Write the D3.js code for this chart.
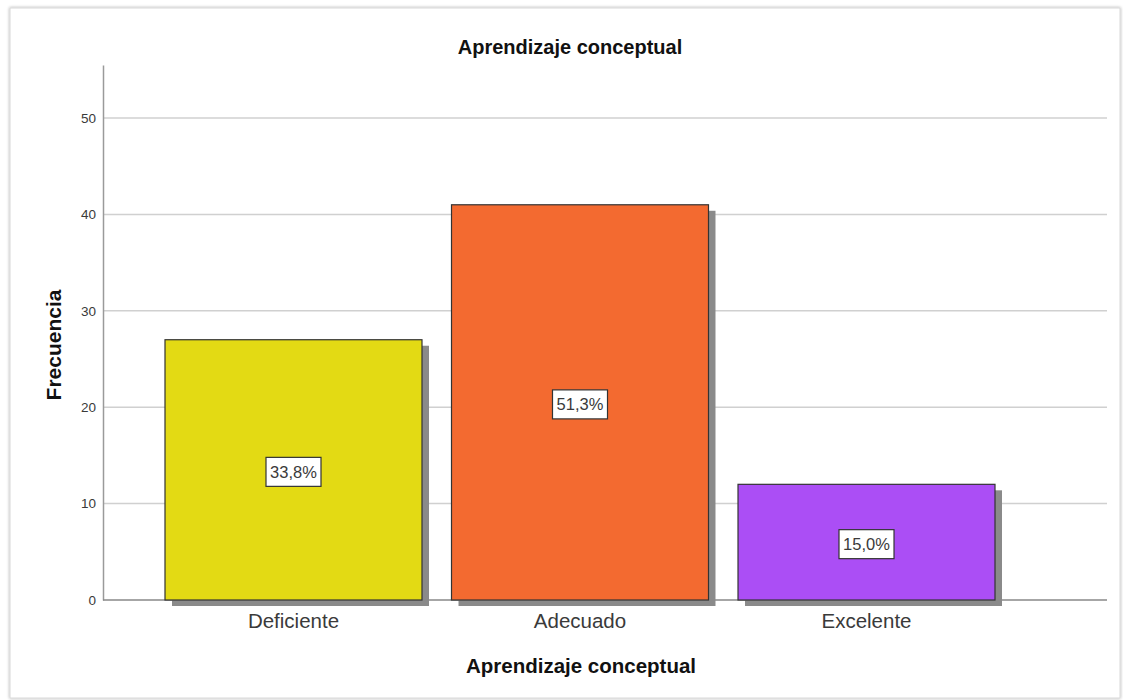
<!DOCTYPE html>
<html><head><meta charset="utf-8">
<script src="https://cdn.jsdelivr.net/npm/d3@7"></script>
<style>
html,body{margin:0;padding:0;background:#fff;}
text{font-family:"Liberation Sans",Arial,sans-serif;}
</style></head>
<body>
<svg id="c" width="1123" height="700"></svg>
<script>
const categories = ["Deficiente", "Adecuado", "Excelente"];
const frequencies = [27, 41, 12];
const percentLabels = ["33,8%", "51,3%", "15,0%"];
const barColors = ["#e3da14", "#f36a30", "#ab4ef5"];
const yTicks = [0, 10, 20, 30, 40, 50];
const chartTitle = "Aprendizaje conceptual";
const xTitle = "Aprendizaje conceptual";
const yTitle = "Frecuencia";

const svg = d3.select("#c");
const defs = svg.append("defs");
const f = defs.append("filter").attr("id","sh").attr("x","-5%").attr("y","-5%").attr("width","110%").attr("height","110%");
f.append("feDropShadow").attr("dx",0).attr("dy",0).attr("stdDeviation",1.5).attr("flood-color","#000").attr("flood-opacity",0.35);

// frame
svg.append("rect").attr("x",10).attr("y",8).attr("width",1110).attr("height",690)
  .attr("fill","#fff").attr("stroke","#d8d8d8").attr("stroke-width",1).attr("filter","url(#sh)");

const y = d3.scaleLinear().domain([0, 55.5]).range([600, 65]);
const x = d3.scaleBand().domain(categories).range([165, 995]).paddingInner(0.103).paddingOuter(0);
const axisX0 = 103, axisX1 = 1107;

// gridlines
svg.append("g").selectAll("line").data(yTicks.filter(d=>d>0)).join("line")
  .attr("x1",axisX0).attr("x2",axisX1).attr("y1",d=>y(d)).attr("y2",d=>y(d))
  .attr("stroke","#d0d0d0").attr("stroke-width",1.5);

// y axis
const yAxis = d3.axisLeft(y).tickValues(yTicks).tickSize(0).tickPadding(7);
const ga = svg.append("g").attr("transform",`translate(${axisX0},0)`).call(yAxis);
ga.select(".domain").attr("stroke","#9a9a9a").attr("stroke-width",1.5);
ga.selectAll("text").attr("font-size",13.5).attr("fill","#3a3a3a");

// shadows
svg.append("g").selectAll("rect").data(categories).join("rect")
  .attr("x",d=>x(d)+7).attr("y",(d,i)=>y(frequencies[i])+6)
  .attr("width",x.bandwidth()).attr("height",(d,i)=>600-y(frequencies[i]))
  .attr("fill","#8a8a8a");

// baseline
svg.append("line").attr("x1",axisX0).attr("x2",axisX1).attr("y1",600).attr("y2",600)
  .attr("stroke","#888").attr("stroke-width",1.5);

// bars
svg.append("g").selectAll("rect").data(categories).join("rect")
  .attr("x",d=>x(d)).attr("y",(d,i)=>y(frequencies[i]))
  .attr("width",x.bandwidth()).attr("height",(d,i)=>600-y(frequencies[i]))
  .attr("fill",(d,i)=>barColors[i]).attr("stroke","#333").attr("stroke-width",1.2);

// value labels
const lg = svg.append("g").selectAll("g").data(categories).join("g")
  .attr("transform",(d,i)=>`translate(${x(d)+x.bandwidth()/2},${(y(frequencies[i])+600)/2+2})`);
lg.append("rect").attr("x",-27.5).attr("y",-14.5).attr("width",55).attr("height",29)
  .attr("fill","#fff").attr("stroke","#333").attr("stroke-width",1.2);
lg.append("text").attr("text-anchor","middle").attr("dy","0.36em").attr("font-size",16.5).attr("fill","#3a3a3a")
  .text((d,i)=>percentLabels[i]);

// category labels
svg.append("g").selectAll("text").data(categories).join("text")
  .attr("x",d=>x(d)+x.bandwidth()/2).attr("y",628).attr("text-anchor","middle")
  .attr("font-size",20.5).attr("fill","#3a3a3a").text(d=>d);

// titles
svg.append("text").attr("x",570).attr("y",54).attr("text-anchor","middle")
  .attr("font-size",20).attr("font-weight","bold").attr("fill","#111").text(chartTitle);
svg.append("text").attr("x",581).attr("y",673).attr("text-anchor","middle")
  .attr("font-size",20.5).attr("font-weight","bold").attr("fill","#111").text(xTitle);
svg.append("text").attr("transform","translate(61,345) rotate(-90)").attr("text-anchor","middle")
  .attr("font-size",21).attr("font-weight","bold").attr("fill","#111").text(yTitle);
</script>
</body></html>
